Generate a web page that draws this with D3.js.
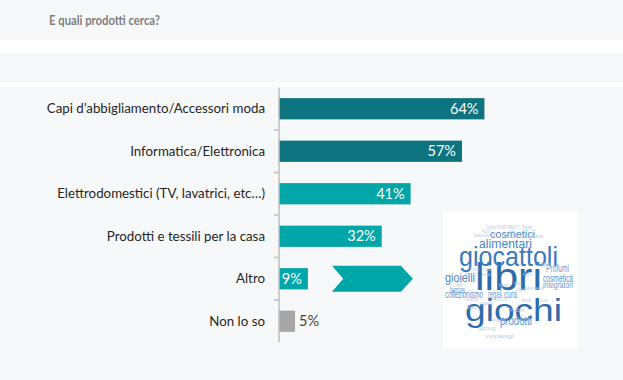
<!DOCTYPE html>
<html><head><meta charset="utf-8">
<script src="https://cdn.jsdelivr.net/npm/d3@7"></script>
<style>body{margin:0;background:#f7f8fa;}svg{display:block;}</style>
</head><body>
<svg id="c" width="623" height="380"></svg>
<script>
const title = "E quali prodotti cerca?";
const categories = ["Capi d\u2019abbigliamento/Accessori moda","Informatica/Elettronica","Elettrodomestici (TV, lavatrici, etc\u2026)","Prodotti e tessili per la casa","Altro","Non lo so"];
const values = [64,57,41,32,9,5];
const valueLabels = ["64%","57%","41%","32%","9%","5%"];
const barColors = ["#0d737f","#0d737f","#00a6a8","#00a6a8","#00a6a8","#a6a6a6"];
// word cloud words
const cloudWords = ["libri","giochi","giocattoli","cosmetici","alimentari","gioielli","Profumi","cosmetica","integratori","bambini","collezionismo","regali","cura","prodotti"];
const cloudSizes = [38,32,28,11,12,13,10,10,9,9,10,10,10,13];
const smallWords = ["Ombre","DIVERTIMENTO","Regali","Piccoli","pet","Elettrodomestici","prodotti","abbigliamento","Profumo","matite","Artistici","casa","Oggetti","elettrodomestici","Tablet","Auto","Alimenti","Mobili","stampanti","scarpe","PERSONA","oggettini","Esterno","Trucchi","SMARTPHONE","Moda","Vestiti","accessori","cucina","orologi"];

const svg = d3.select("#c");
const W = 623, H = 380;
svg.append("rect").attr("width",W).attr("height",H).attr("fill","#f7f8fa");
svg.append("rect").attr("y",40).attr("width",W).attr("height",13).attr("fill","#ffffff");
svg.append("rect").attr("y",82).attr("width",W).attr("height",5).attr("fill","#fdfdfe");

svg.append("text").text(title).attr("x",49).attr("y",25)
  .attr("font-family","Lato, 'Open Sans', sans-serif").attr("font-weight","bold")
  .attr("font-size",13.5).attr("fill","#7f7f7f")
  .attr("textLength",111).attr("lengthAdjust","spacingAndGlyphs");

const x = d3.scaleLinear().domain([0,100]).range([279, 279+321]);
const y = d3.scaleBand().domain(categories).range([87.5,342.5]).paddingInner(0.5).paddingOuter(0.25);

const g = svg.append("g");
g.selectAll("rect.bar").data(categories).join("rect")
  .attr("x",x(0)).attr("y",d=>y(d)).attr("height",y.bandwidth())
  .attr("width",(d,i)=>x(values[i])-x(0)).attr("fill",(d,i)=>barColors[i]);

const half = y.step()*y.paddingInner()/2;
g.append("line").attr("x1",x(0)).attr("x2",x(0)).attr("y1",y.range()[0]).attr("y2",y.range()[1])
  .attr("stroke","#bfbfbf").attr("stroke-width",1.5);
const bounds = categories.slice(1).map(d=>y(d)-half);
g.selectAll("line.tick").data(bounds).join("line")
  .attr("x1",x(0)-5).attr("x2",x(0)).attr("y1",d=>d).attr("y2",d=>d)
  .attr("stroke","#bfbfbf").attr("stroke-width",1.5);

g.selectAll("text.cat").data(categories).join("text")
  .attr("x",265).attr("y",d=>y(d)+y.bandwidth()/2).attr("dy","0.35em")
  .attr("text-anchor","end").attr("font-family","Lato, 'Open Sans', sans-serif")
  .attr("font-size",13.3).attr("fill","#262626").text(d=>d);

g.selectAll("text.val").data(categories).join("text")
  .attr("x",(d,i)=> values[i] < 7 ? x(values[i])+4 : x(values[i])-6)
  .attr("y",d=>y(d)+y.bandwidth()/2).attr("dy","0.36em")
  .attr("text-anchor",(d,i)=> values[i] < 7 ? "start" : "end")
  .attr("font-family","Lato, 'Open Sans', sans-serif").attr("font-size",14.5)
  .attr("fill",(d,i)=> values[i] < 7 ? "#404040" : "#ffffff").text((d,i)=>valueLabels[i]);

// chevron arrow next to "Altro"
const ay = y("Altro")+y.bandwidth()/2, ah = 13;
const ax0 = x(16.5), ax1 = x(38), ax2 = x(41.7), an = x(20);
g.append("path").attr("d",`M${ax0},${ay-ah}L${ax1},${ay-ah}L${ax2},${ay}L${ax1},${ay+ah}L${ax0},${ay+ah}L${an},${ay}Z`)
  .attr("fill","#00a6a8");

// word cloud box
const wc = svg.append("g");
wc.append("rect").attr("x",443).attr("y",212).attr("width",135).attr("height",136).attr("fill","#ffffff");
const bigPos = [
  [475,290,67,"#2d6cab"],[465,321,97,"#2d6cab"],[459,266,99,"#3b7abb"],
  [490,238,45,"#4a86c3"],[479,247.5,53,"#4a86c3"],[445,282,30,"#4a86c3"],
  [546,271.5,23,"#6a9bcf"],[543,282,30,"#5b90c9"],[543,288,30,"#6a9bcf"],
  [450,293,15,"#6a9bcf"],[445,297.5,38,"#5b90c9"],[488,297.5,14,"#6a9bcf"],[504,297.5,13,"#6a9bcf"],[500,325,32,"#5b90c9"]
];
wc.selectAll("text.big").data(cloudWords).join("text")
  .attr("x",(d,i)=>bigPos[i][0]).attr("y",(d,i)=>bigPos[i][1])
  .attr("textLength",(d,i)=>bigPos[i][2]).attr("lengthAdjust","spacingAndGlyphs")
  .attr("font-family","'Liberation Sans', Arial, sans-serif").attr("font-size",(d,i)=>cloudSizes[i])
  .attr("fill",(d,i)=>bigPos[i][3]).text(d=>d);
const smallPos = [
  [486,229,10],[497,229,22],[522,229,10],[482,233,8],[509,233,6],[474,237,22],[506,238,12],[521,238,22],
  [470,271,9],[484,271,8],[465,276,12],[482,276,8],[538,266,12],[523,276,10],[455,286,8],[514,285,8],[524,290,20],
  [499,287,10],[516,291,8],[466,301,12],[496,301,12],[480,305,14],[467,309,12],[508,312,16],[478,331,18],[491,322,14],
  [521,302,10],[540,302,8],[518,321,12],[486,338,28]
];
wc.selectAll("text.small").data(smallPos).join("text")
  .attr("x",d=>d[0]).attr("y",d=>d[1]).attr("textLength",d=>d[2]).attr("lengthAdjust","spacingAndGlyphs")
  .attr("font-family","'Liberation Sans', Arial, sans-serif").attr("font-size",4.5)
  .attr("fill","#b7cbe4").text((d,i)=>smallWords[i]);
</script>
</body></html>
